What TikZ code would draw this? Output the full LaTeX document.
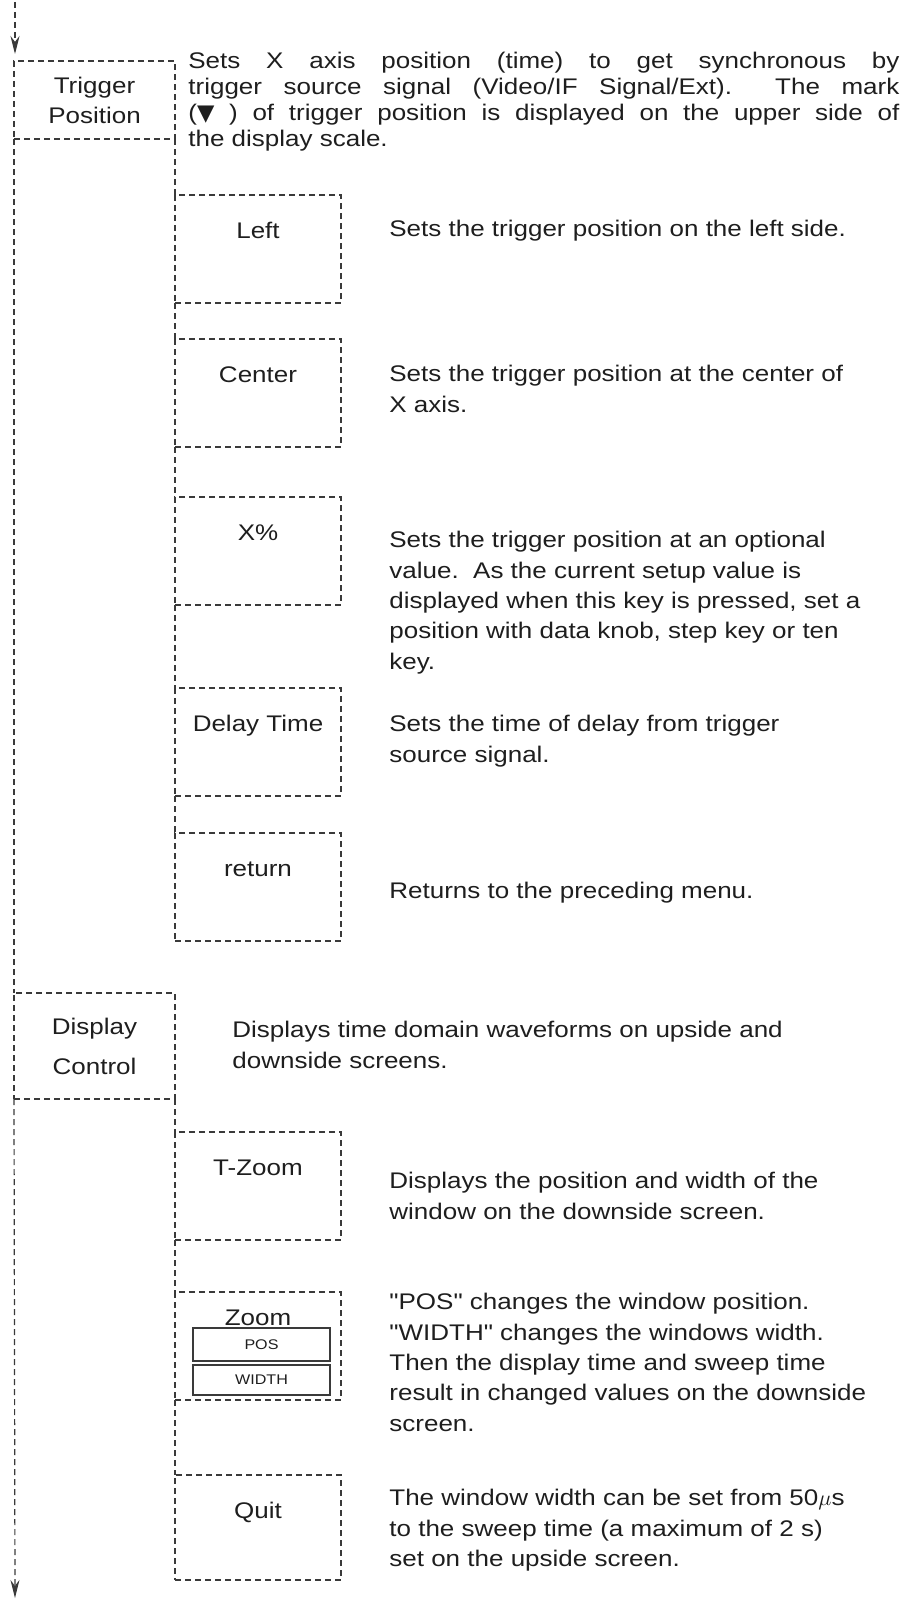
\documentclass[tikz,border=0pt]{standalone}
\usepackage{fontspec}
\setmainfont{Liberation Sans}[FakeStretch=1.15, Ligatures=TeXOff]
\newfontfamily\symfont{DejaVu Sans}
\usetikzlibrary{arrows.meta,positioning}
\definecolor{inkline}{HTML}{3A3A3A}
\definecolor{inktext}{HTML}{1E1E1E}

\begin{document}
\begin{tikzpicture}[
  x=0.5pt, y=-0.5pt,
  font=\fontsize{11.3}{15.2}\selectfont,
  menubox/.style={draw=inkline, dash pattern=on 3pt off 2pt, line width=0.6pt, minimum width=80.5pt, align=center, inner sep=0pt, outer sep=0pt, text=inktext},
  keybox/.style={draw=inkline, dash pattern=on 3pt off 2pt, line width=0.6pt, anchor=north west, minimum width=83pt, inner xsep=0pt, inner ysep=0pt, outer sep=0pt, text height=21.5pt, text depth=32.5pt, text=inktext},
  subkey/.style={draw=inkline, line width=0.7pt, minimum width=68.5pt, inner sep=0pt, outer sep=0pt, text=inktext, font=\fontsize{7}{8}\selectfont},
  desc/.style={anchor=north west, align=left, inner sep=0pt, text=inktext},
  flow/.style={draw=inkline, dash pattern=on 3pt off 2pt, line width=0.6pt},
  >={Stealth[length=9pt, width=4.5pt]}
]
\useasboundingbox (0,0) rectangle (902,1600);

% main menu keys
\node[menubox, minimum height=39pt, font=\fontsize{11.3}{15}\selectfont] (trig) at (94.5,100) {Trigger\\Position};
\node[menubox, minimum height=53pt, font=\fontsize{11.3}{20}\selectfont] (disp) at (94.5,1046) {Display\\Control};

% trigger position sub menu
\node[keybox] (kLeft) at (175,195) {Left};
\node[keybox] (kCenter) at (175,339) {Center};
\node[keybox] (kXpct) at (175,497) {X\%};
\node[keybox] (kDelay) at (175,688) {Delay Time};
\node[keybox] (kReturn) at (175,833) {return};

% display control sub menu
\node[keybox] (kTZoom) at (175,1132) {T-Zoom};
\node[keybox, text height=16.5pt, text depth=37.5pt] (kZoom) at (175,1292) {Zoom};
\node[subkey, minimum height=16.5pt] (kPos) at (261.5,1344.5) {POS};
\node[subkey, minimum height=15pt] (kWidth) at (261.5,1380) {WIDTH};
\node[keybox, text height=21.5pt, text depth=31pt] (kQuit) at (175,1475) {Quit};

% texts
\node[desc, align=justify, text width=355.5pt, font=\fontsize{11.3}{13}\selectfont] (trigText) at (188,52)
  {Sets X axis position (time) to get synchronous by\linebreak trigger source signal (Video/IF Signal/Ext).\ \ The mark\linebreak ({\symfont ▼} ) of trigger position is displayed on the upper side of\linebreak the display scale.};
\node[desc] (leftText) at (389,220) {Sets the trigger position on the left side.};
\node[desc] (centerText) at (389,365) {Sets the trigger position at the center of\\X axis.};
\node[desc] (xpctText) at (389,531) {Sets the trigger position at an optional\\value.\ \ As the current setup value is\\displayed when this key is pressed, set a\\position with data knob, step key or ten\\key.};
\node[desc] (delayText) at (389,715) {Sets the time of delay from trigger\\source signal.};
\node[desc] (returnText) at (389,882) {Returns to the preceding menu.};
\node[desc] (dispText) at (232,1021) {Displays time domain waveforms on upside and\\downside screens.};
\node[desc] (tzoomText) at (389,1172) {Displays the position and width of the\\window on the downside screen.};
\node[desc] (zoomText) at (389,1293) {"POS" changes the window position.\\"WIDTH" changes the windows width.\\Then the display time and sweep time\\result in changed values on the downside\\screen.};
\node[desc] (quitText) at (389,1489) {The window width can be set from 50$\mu$s\\to the sweep time (a maximum of 2 s)\\set on the upside screen.};

% connectors
\coordinate (inTop) at (15,2);
\coordinate (inTip) at (15,54);
\coordinate (outTip) at (15,1598);
\draw[flow, ->] (inTop) -- (inTip);
\draw[flow] (trig.south west) -- (disp.north west);
\draw[flow, ->] (disp.south west) -- (outTip);
\draw[flow] (trig.south east) -- (kLeft.north west);
\draw[flow] (kLeft.south west) -- (kCenter.north west);
\draw[flow] (kCenter.south west) -- (kXpct.north west);
\draw[flow] (kXpct.south west) -- (kDelay.north west);
\draw[flow] (kDelay.south west) -- (kReturn.north west);
\draw[flow] (disp.south east) -- (kTZoom.north west);
\draw[flow] (kTZoom.south west) -- (kZoom.north west);
\draw[flow] (kZoom.south west) -- (kQuit.north west);
\end{tikzpicture}
\end{document}
